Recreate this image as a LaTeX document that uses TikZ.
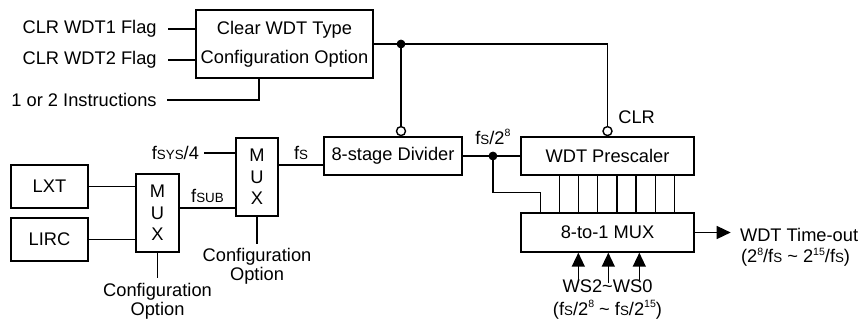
\documentclass[tikz,border=0pt]{standalone}
\usepackage{fontspec}
\setmainfont{Liberation Sans}
\usetikzlibrary{positioning, calc, arrows.meta}

\newcommand{\sm}[1]{{\fontsize{7.6}{8}\selectfont #1}}
\newcommand{\pw}[1]{\raisebox{0.8ex}{\fontsize{6}{6}\selectfont #1}}

\tikzset{
    blk/.style={draw, rectangle, inner sep=0pt, line width=0.8pt, align=center},
    lbl/.style={inner sep=0pt, align=center},
    wire/.style={line width=0.8pt},
    bubble/.style={draw, circle, fill=white, minimum size=0.18cm, inner sep=0pt, line width=0.8pt},
    tip/.style={-{Triangle[length=0.28cm, width=0.26cm]}},
}

\begin{document}
\begin{tikzpicture}[x=0.02cm, y=-0.02cm, font=\fontsize{10.4}{11}\selectfont]
        \useasboundingbox (0, 0) rectangle (865, 321);

        \node[blk, minimum width=3.54cm, minimum height=1.36cm, font=\fontsize{10.4}{16.5}\selectfont]
            (clrbox) at (284.5, 44) {Clear WDT Type\\Configuration Option};
        \node[lbl, anchor=east] (flag1) at (157, 29) {CLR WDT1 Flag};
        \node[lbl, anchor=east] (flag2) at (157, 60) {CLR WDT2 Flag};
        \node[lbl, anchor=east] (instr) at (157, 100) {1 or 2 Instructions};

        \node[blk, minimum width=1.54cm, minimum height=0.86cm] (lxt) at (49.5, 186.5) {LXT};
        \node[blk, minimum width=1.54cm, minimum height=0.86cm] (lirc) at (49.5, 239.5) {LIRC};
        \node[blk, minimum width=0.86cm, minimum height=1.56cm, font=\fontsize{10.4}{12.2}\selectfont]
            (mux1) at (157.5, 213) {M\\U\\X};
        \node[blk, minimum width=0.84cm, minimum height=1.56cm, font=\fontsize{10.4}{12.2}\selectfont]
            (mux2) at (257, 177) {M\\U\\X};
        \node[lbl, below=0.6cm of mux1, font=\fontsize{10.4}{10.8}\selectfont] (cfg1) {Configuration\\Option};
        \node[lbl, below=0.62cm of mux2, font=\fontsize{10.4}{10.8}\selectfont] (cfg2) {Configuration\\Option};
        \node[lbl, anchor=east] (fsys) at ($(mux2.west)+(-36, -24)$) {f\sm{SYS}/4};

        \node[blk, minimum width=2.76cm, minimum height=0.76cm] (divider) at (393, 156) {8-stage Divider};
        \node[blk, minimum width=3.46cm, minimum height=0.76cm] (prescaler) at (607.5, 156) {WDT Prescaler};
        \node[blk, minimum width=3.46cm, minimum height=0.78cm] (mux8) at (607.5, 232.5) {8-to-1 MUX};

        \node[bubble, anchor=south] (inv1) at ($(divider.north)+(8, 0)$) {};
        \node[bubble, anchor=south] (inv2) at (prescaler.north) {};
        \node[lbl, anchor=west] (clrlbl) at ($(inv2.center)+(10.5, -13.5)$) {CLR};

        \coordinate (j1) at (inv1.north |- clrbox.east);
        \coordinate (j2) at ($(divider.east)!0.525!(prescaler.west)$);
        \node[lbl, above=0.22cm of j2] (fsdiv) {f\sm{S}/2\pw{8}};

        \node[lbl, anchor=west] (tout) at ($(mux8.east)+(45, 2)$) {WDT Time-out};
        \node[lbl, below right=0.12cm and 0.02cm of tout.south west] (trange) {(2\pw{8}/f\sm{S} \textasciitilde{} 2\pw{15}/f\sm{S})};
        \node[lbl, below=0.54cm of mux8, font=\fontsize{10.4}{13}\selectfont]
            (ws) {WS2\textasciitilde WS0\\(f\sm{S}/2\pw{8} \textasciitilde{} f\sm{S}/2\pw{15})};

        \draw[wire, shorten <=0.22cm] (flag1.east) -- (flag1.east -| clrbox.west);
        \draw[wire, shorten <=0.22cm] (flag2.east) -- (flag2.east -| clrbox.west);
        \draw[wire, shorten <=0.2cm] (instr.east) -| ($(clrbox.south)+(-25.5, 0)$);

        \draw[wire] (clrbox.east) -| (inv2.north);
        \draw[wire] (j1) -- (inv1.north);
        \filldraw[color=black] (j1) circle (0.08cm);

        \coordinate (o1) at ($(mux1.east)+(0, -5)$);
        \coordinate (o2) at ($(mux2.east)+(0, -12)$);
        \draw[wire] (lxt.east) -- (lxt.east -| mux1.west);
        \draw[wire] (lirc.east) -- (lirc.east -| mux1.west);
        \draw[wire] (o1) -- (o1 -| mux2.west)
            node[lbl, midway, above=0.1cm] (fsub) {f\sm{SUB}};
        \draw[wire, shorten <=0.1cm] (fsys.east) -- (fsys.east -| mux2.west);
        \draw[wire] (o2) -- (o2 -| divider.west)
            node[lbl, midway, above=0.1cm] (fslbl) {f\sm{S}};
        \draw[wire, shorten >=0.1cm] (mux1.south) -- (cfg1.north);
        \draw[wire, shorten >=0.08cm] (mux2.south) -- (cfg2.north);

        \draw[wire] (divider.east) -- (prescaler.west);
        \filldraw[color=black] (j2) circle (0.08cm);

        \foreach \i in {0,...,7}
            \coordinate (in\i) at ($(mux8.north west)+(20+19.15*\i, 0)$);
        \foreach \i in {1,...,7}
            \draw[wire] (in\i |- prescaler.south) -- (in\i);
        \draw[wire] (j2) |- ($(in0)+(0, -20)$) -- (in0);

        \draw[wire, tip, shorten >=0.18cm] (mux8.east) -- (mux8.east -| tout.west);

        \foreach \dx/\dy [count=\k] in {58/0, 88/-0.07, 119/0} {
            \coordinate (s\k) at ($(mux8.south west)+(\dx, 0)$);
            \coordinate (t\k) at (s\k |- ws.north);
            \draw[wire, tip] ([yshift=\dy cm]t\k) -- (s\k);
        }
    \end{tikzpicture}
\end{document}
